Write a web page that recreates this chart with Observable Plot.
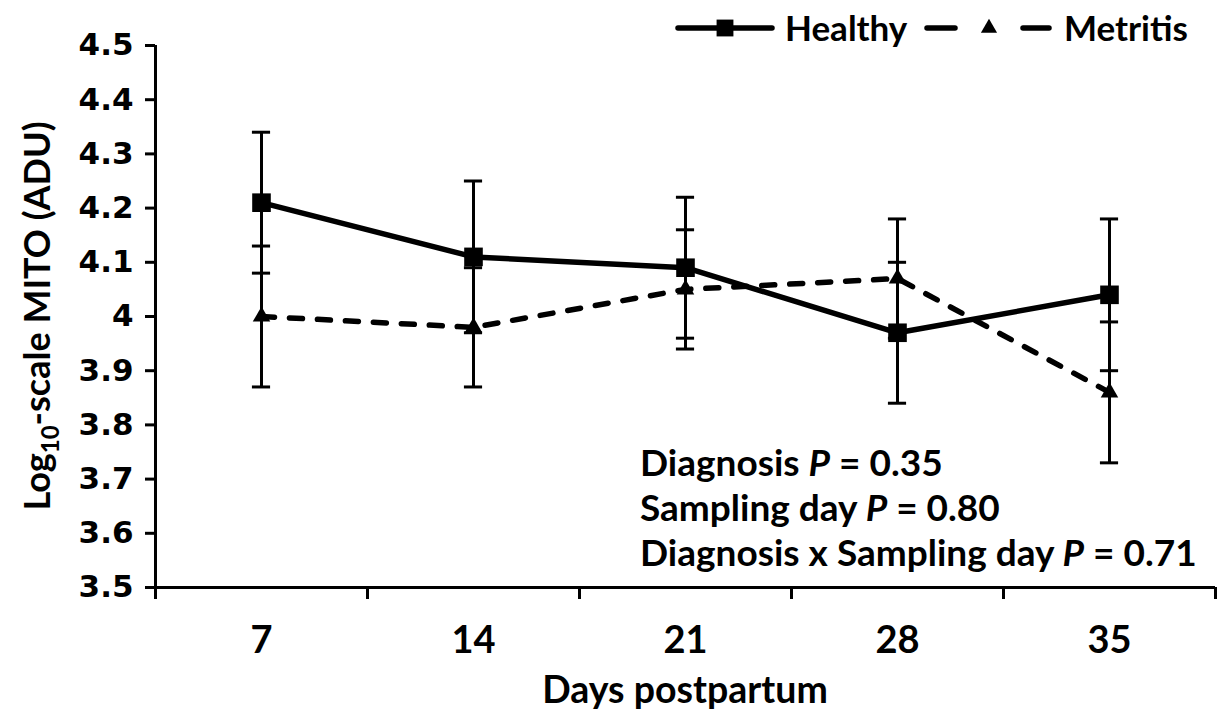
<!DOCTYPE html>
<html>
<head>
<meta charset="utf-8">
<script src="https://cdn.jsdelivr.net/npm/d3@7"></script>
<script src="https://cdn.jsdelivr.net/npm/@observablehq/plot@0.6"></script>
<style>
  html, body { margin: 0; padding: 0; background: #fff; }
  #chart { position: relative; width: 1222px; height: 715px; }
</style>
</head>
<body>
<div id="chart"></div>
<script>
// ---- data ----
const days = [7, 14, 21, 28, 35];
const healthyMean = [4.21, 4.11, 4.09, 3.97, 4.04];
const healthySE   = [0.13, 0.14, 0.13, 0.13, 0.14];
const metritisMean = [4.00, 3.98, 4.05, 4.07, 3.86];
const metritisSE   = [0.13, 0.11, 0.11, 0.11, 0.13];
const yTicks = [3.5, 3.6, 3.7, 3.8, 3.9, 4.0, 4.1, 4.2, 4.3, 4.4, 4.5];
const groups = ["Healthy", "Metritis"];
const statLabels = ["Diagnosis", "Sampling day", "Diagnosis x Sampling day"];
const statP = ["0.35", "0.80", "0.71"];
const xTitle = "Days postpartum";
const yTitle = ["Log", "10", "-scale MITO (ADU)"];

// ---- derived tables ----
const half = (days[1] - days[0]) / 2;
const xBounds = [days[0] - half, ...days.map(d => d + half)];
const rowsH = days.map((d, i) => ({day: d, mean: healthyMean[i], lo: healthyMean[i] - healthySE[i], hi: healthyMean[i] + healthySE[i]}));
const rowsM = days.map((d, i) => ({day: d, mean: metritisMean[i], lo: metritisMean[i] - metritisSE[i], hi: metritisMean[i] + metritisSE[i]}));
const rowsAll = [...rowsH, ...rowsM];
const capW = 0.3;

const sans = "Lato, 'Open Sans', sans-serif";

const plot = Plot.plot({
  width: 1222,
  height: 715,
  marginLeft: 155,
  marginRight: 7,
  marginTop: 45,
  marginBottom: 128,
  style: {background: "white", color: "black"},
  x: {domain: [xBounds[0], xBounds[xBounds.length - 1]]},
  y: {domain: [yTicks[0], yTicks[yTicks.length - 1]]},
  marks: [
    Plot.axisY({ticks: yTicks, tickSize: 10, tickPadding: 12, strokeWidth: 3,
      tickFormat: d => String(+d.toFixed(1)), fontSize: 31, fontFamily: "'DejaVu Sans', sans-serif",
      fontWeight: "bold", label: null}),
    Plot.axisX({ticks: xBounds, tickSize: 12, strokeWidth: 3, tickFormat: () => "", label: null}),
    Plot.axisX({ticks: days, tickSize: 0, tickPadding: 39, fontSize: 38, fontFamily: sans,
      fontWeight: "bold", tickFormat: d => String(d), label: null}),
    Plot.ruleX([xBounds[0]], {strokeWidth: 3}),
    Plot.ruleY([yTicks[0]], {strokeWidth: 3}),
    Plot.line(rowsH, {x: "day", y: "mean", stroke: "black", strokeWidth: 5.5}),
    Plot.line(rowsM, {x: "day", y: "mean", stroke: "black", strokeWidth: 5.5,
      strokeDasharray: "13,15", strokeLinecap: "round"}),
    Plot.ruleX(rowsAll, {x: "day", y1: "lo", y2: "hi", stroke: "black", strokeWidth: 3}),
    Plot.ruleY(rowsAll, {y: "lo", x1: d => d.day - capW, x2: d => d.day + capW, stroke: "black", strokeWidth: 3}),
    Plot.ruleY(rowsAll, {y: "hi", x1: d => d.day - capW, x2: d => d.day + capW, stroke: "black", strokeWidth: 3}),
    Plot.dot(rowsH, {x: "day", y: "mean", symbol: "square", r: 10.5, fill: "black", stroke: null}),
    Plot.dot(rowsM, {x: "day", y: "mean", symbol: "triangle", r: 6.5, fill: "black", stroke: null})
  ]
});

document.getElementById("chart").appendChild(plot);

// ---- titles, annotations, legend (text) ----
const svg = d3.select(plot);
const xs = plot.scale("x"), ys = plot.scale("y");

svg.append("text")
  .attr("x", (xs.apply(xBounds[0]) + xs.apply(xBounds[xBounds.length - 1])) / 2)
  .attr("y", 703)
  .attr("text-anchor", "middle")
  .style("font", `bold 37.5px ${sans}`)
  .text(xTitle);

const yt = svg.append("text")
  .attr("transform", `translate(50,${(ys.apply(yTicks[0]) + ys.apply(yTicks[yTicks.length - 1])) / 2}) rotate(-90)`)
  .attr("text-anchor", "middle")
  .style("font", `bold 36px ${sans}`);
yt.append("tspan").text(yTitle[0]);
yt.append("tspan").attr("dy", 9).style("font-size", "24px").text(yTitle[1]);
yt.append("tspan").attr("dy", -9).text(yTitle[2]);

statLabels.forEach((lab, i) => {
  const t = svg.append("text")
    .attr("x", 640).attr("y", 476 + i * 45)
    .attr("text-anchor", "start")
    .style("font", `bold 37px ${sans}`);
  t.append("tspan").text(lab + " ");
  t.append("tspan").style("font-style", "italic").text("P");
  t.append("tspan").text(" = " + statP[i]);
});

// legend
const lg = svg.append("g");
// Healthy
lg.append("line").attr("x1", 678).attr("x2", 772).attr("y1", 28).attr("y2", 28)
  .attr("stroke", "black").attr("stroke-width", 5.5).attr("stroke-linecap", "round");
lg.append("path").attr("d", d3.symbol(d3.symbolSquare, 9.5 * 9.5 * Math.PI)()).attr("transform", "translate(725,28)");
lg.append("text").attr("x", 785).attr("y", 41).attr("text-anchor", "start")
  .style("font", `bold 35px ${sans}`).text(groups[0]);
// Metritis
[[927, 955], [1023, 1049]].forEach(([a, b]) =>
  lg.append("line").attr("x1", a).attr("x2", b).attr("y1", 28).attr("y2", 28)
    .attr("stroke", "black").attr("stroke-width", 5.5).attr("stroke-linecap", "round"));
lg.append("path").attr("d", d3.symbol(d3.symbolTriangle, 6 * 6 * Math.PI)()).attr("transform", "translate(989,28)");
lg.append("text").attr("x", 1064).attr("y", 41).attr("text-anchor", "start")
  .style("font", `bold 35px ${sans}`).text(groups[1]);
</script>
</body>
</html>
